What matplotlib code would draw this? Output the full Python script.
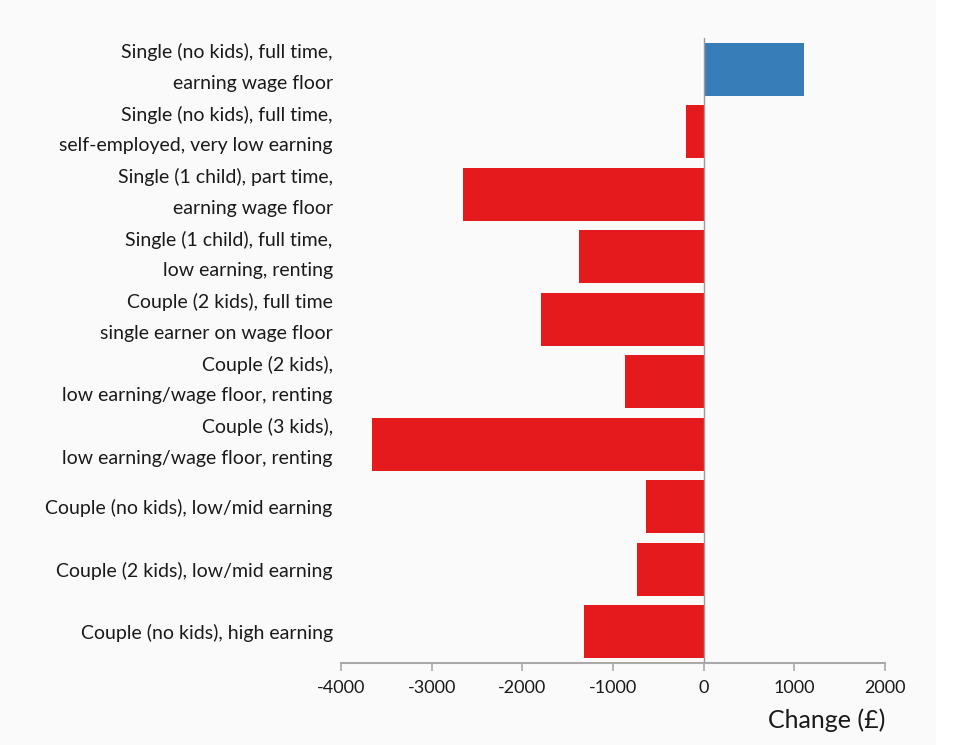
import matplotlib.pyplot as plt
import matplotlib.transforms as mtransforms
from matplotlib.patches import Rectangle

labels = [
    'Single (no kids), full time,\nearning wage floor',
    'Single (no kids), full time,\nself-employed, very low earning',
    'Single (1 child), part time,\nearning wage floor',
    'Single (1 child), full time,\nlow earning, renting',
    'Couple (2 kids), full time\nsingle earner on wage floor',
    'Couple (2 kids),\nlow earning/wage floor, renting',
    'Couple (3 kids),\nlow earning/wage floor, renting',
    'Couple (no kids), low/mid earning',
    'Couple (2 kids), low/mid earning',
    'Couple (no kids), high earning',
]
change = [1110, -200, -2650, -1370, -1790, -870, -3660, -640, -740, -1320]
xticks = [-4000, -3000, -2000, -1000, 0, 1000, 2000]

plt.rcParams['font.family'] = ['Lato', 'DejaVu Sans']

fig = plt.figure(figsize=(9.61, 7.45), dpi=100, facecolor='white')
fig.patches.append(Rectangle((0, 0), 936 / 961, 1, transform=fig.transFigure,
                             facecolor='#fafafa', edgecolor='none', zorder=-10))
ax = fig.add_axes([341 / 961, 1 - 663 / 745, 544 / 961, (663 - 38) / 745])
ax.set_facecolor('#fafafa')

ypos = list(range(len(labels)))
colors = ['#377eb8' if v > 0 else '#e41a1c' for v in change]
ax.barh(ypos, change, height=0.85, color=colors, zorder=2)
ax.axvline(0, color='#9a9a9a', linewidth=1, zorder=3)

ax.set_xlim(-4000, 2000)
ax.set_ylim(len(labels) - 0.5, -0.5)
ax.set_xticks(xticks)
ax.set_xticklabels([str(t) for t in xticks], fontsize=13, color='#1a1a1a')
ax.set_yticks(ypos)
ax.set_yticklabels(labels, fontsize=14, color='#1a1a1a', linespacing=1.95)
ax.tick_params(axis='y', length=0, pad=6)
ax.tick_params(axis='x', length=6, color='#aaaaaa', width=1.2, pad=6)

# two-line labels sit a bit high in the original
shift = mtransforms.ScaledTranslation(0, 10 / 100, fig.dpi_scale_trans)
for t in ax.get_yticklabels():
    if '\n' in t.get_text():
        t.set_transform(t.get_transform() + shift)

for s in ['top', 'right', 'left']:
    ax.spines[s].set_visible(False)
ax.spines['bottom'].set_color('#aaaaaa')
ax.spines['bottom'].set_linewidth(1.5)

ax.set_xlabel('Change (£)', fontsize=18, color='#1a1a1a', loc='right', labelpad=9)

fig.savefig('out.png', dpi=100, facecolor=fig.get_facecolor())
